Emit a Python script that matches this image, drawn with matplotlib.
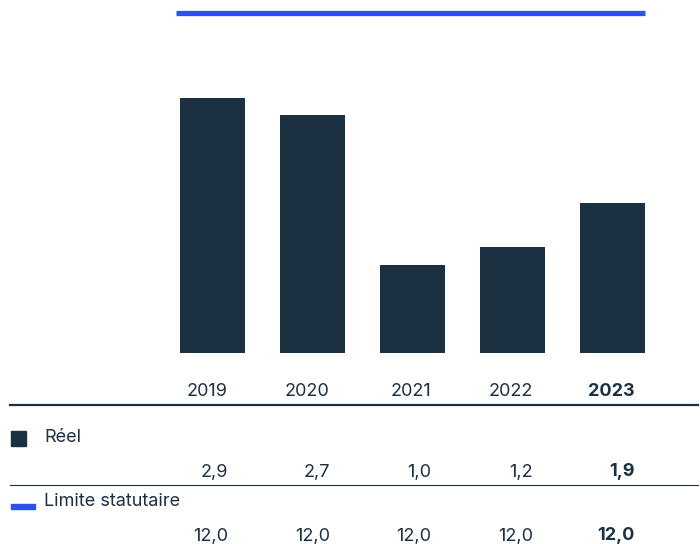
import matplotlib.pyplot as plt
import numpy as np

years = ["2019", "2020", "2021", "2022", "2023"]
reel = [2.9, 2.7, 1.0, 1.2, 1.9]          # values printed in the table
reel_bars = [2.9, 2.7, 1.0, 1.2, 1.7]     # bar heights as drawn in the source
limite = [12.0, 12.0, 12.0, 12.0, 12.0]

navy = "#1b3142"
blue = "#2d4ff0"

plt.rcParams['font.family'] = ['Inter', 'DejaVu Sans']

def fmt(v):
    return ("%.1f" % v).replace(".", ",")

def fy(px):
    return 1 - px / 544

fig = plt.figure(figsize=(7, 5.44), dpi=100)
ax = fig.add_axes([0, fy(353), 1, (353 - 12.5) / 544])

x = np.arange(len(years))
w = 0.65
ax.bar(x, reel_bars, width=w, color=navy)
ax.set_xlim(-2.12, 4.88)
ytop = 3.87
ax.set_ylim(0, ytop)

# limit is far above the shown range, so it sits on the top edge
ax.plot([x[0] - w / 2 - 0.04, x[-1] + w / 2], [min(limite[0], ytop)] * 2,
        color=blue, lw=3.8, solid_capstyle="butt", clip_on=False)
ax.axis("off")

# table below the chart, columns ~102 px wide, text right aligned
fs = 13
col_right = 228
col_w = 101.75
for i, yr in enumerate(years):
    bold = "bold" if i == len(years) - 1 else "normal"
    xr = (col_right + i * col_w) / 700
    fig.text(xr, fy(392), yr, ha="right", va="center",
             fontsize=fs, color=navy, fontweight=bold)
    fig.text(xr, fy(472), fmt(reel[i]), ha="right", va="center",
             fontsize=fs, color=navy, fontweight=bold)
    fig.text(xr, fy(536), fmt(limite[i]), ha="right", va="center",
             fontsize=fs, color=navy, fontweight=bold)

# table rules
fig.add_artist(plt.Line2D([10 / 700, 698 / 700], [fy(404.5)] * 2, color=navy, lw=1.6))
fig.add_artist(plt.Line2D([10 / 700, 698 / 700], [fy(484.5)] * 2, color=navy, lw=0.8))

# legend rows
fig.add_artist(plt.Rectangle((11 / 700, fy(446)), 15 / 700, 15 / 544, color=navy))
fig.text(44 / 700, fy(438), "Réel", ha="left", va="center", fontsize=fs, color=navy)
fig.add_artist(plt.Rectangle((11 / 700, fy(509)), 24 / 700, 5 / 544, color=blue))
fig.text(44 / 700, fy(502), "Limite statutaire", ha="left", va="center", fontsize=fs, color=navy)

fig.savefig("out.png", dpi=100)
